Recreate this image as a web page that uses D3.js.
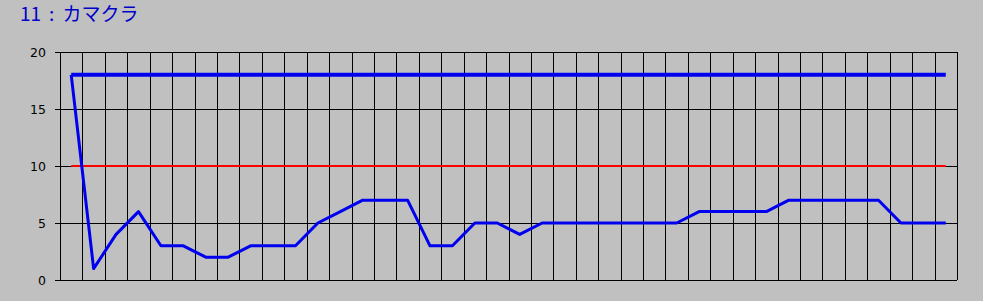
<html>
<head>
<script src="https://d3js.org/d3.v7.min.js"></script>
<style>
  body { margin: 0; background: #c0c0c0; }
  svg { display: block; }
</style>
</head>
<body>
<svg id="svg" width="983" height="301"></svg>
<script>
var titleNum = "11";
var titleSep = ":";
var titleName = "カマクラ";
var yTicks = [0, 5, 10, 15, 20];
var nCols = 40;
var upperLine = [18,18,18,18,18,18,18,18,18,18,18,18,18,18,18,18,18,18,18,18,
                 18,18,18,18,18,18,18,18,18,18,18,18,18,18,18,18,18,18,18,18];
var midLine = [10,10,10,10,10,10,10,10,10,10,10,10,10,10,10,10,10,10,10,10,
               10,10,10,10,10,10,10,10,10,10,10,10,10,10,10,10,10,10,10,10];
var values = [18,1,4,6,3,3,2,2,3,3,3,5,6,7,7,7,3,3,5,5,
              4,5,5,5,5,5,5,5,6,6,6,6,7,7,7,7,7,5,5,5];

var svg = d3.select("svg");
var plotL = 60, plotR = 957, plotT = 52, plotB = 280;

var x = d3.scaleBand().domain(d3.range(nCols)).range([plotL, plotR]);
var y = d3.scaleLinear().domain([0, 20]).range([plotB, plotT]);

svg.append("rect").attr("width", 983).attr("height", 301).attr("fill", "#c0c0c0");

var t = svg.append("text")
   .attr("x", 20).attr("y", 21)
   .attr("font-family", "Noto Sans CJK JP, sans-serif")
   .attr("font-size", 19)
   .attr("fill", "#0000c8");
t.append("tspan").text(titleNum);
t.append("tspan").attr("dx", 8).text(titleSep);
t.append("tspan").attr("dx", 8).text(titleName);

// grid
var grid = svg.append("g").attr("stroke", "#000").attr("stroke-width", 1).attr("shape-rendering", "crispEdges");
grid.selectAll("line.v").data(d3.range(nCols + 1)).enter().append("line")
    .attr("x1", function(d){ return Math.round(plotL + d * x.bandwidth()) + 0.5; })
    .attr("x2", function(d){ return Math.round(plotL + d * x.bandwidth()) + 0.5; })
    .attr("y1", plotT).attr("y2", plotB);
grid.selectAll("line.h").data(yTicks).enter().append("line")
    .attr("x1", plotL - 5).attr("x2", plotR)
    .attr("y1", function(d){ return Math.round(y(d)) + 0.5; })
    .attr("y2", function(d){ return Math.round(y(d)) + 0.5; });

var axis = d3.axisLeft(y).tickValues(yTicks).tickSize(0).tickPadding(14);
var ax = svg.append("g").attr("transform", "translate(" + plotL + ",0)").call(axis);
ax.select(".domain").remove();
ax.selectAll("text").attr("font-family", "DejaVu Sans, sans-serif").attr("font-size", 12.5).attr("fill", "#000");

var line = d3.line()
    .x(function(d, i){ return x(i) + x.bandwidth() / 2; })
    .y(function(d){ return y(d); });

svg.append("path").datum(midLine).attr("d", line)
   .attr("fill", "none").attr("stroke", "#ff0000").attr("stroke-width", 2);
svg.append("path").datum(upperLine).attr("d", line)
   .attr("fill", "none").attr("stroke", "#0000ee").attr("stroke-width", 4);
svg.append("path").datum(values).attr("d", line)
   .attr("fill", "none").attr("stroke", "#0000ee").attr("stroke-width", 3)
   .attr("stroke-linejoin", "round");
</script>
</body>
</html>
